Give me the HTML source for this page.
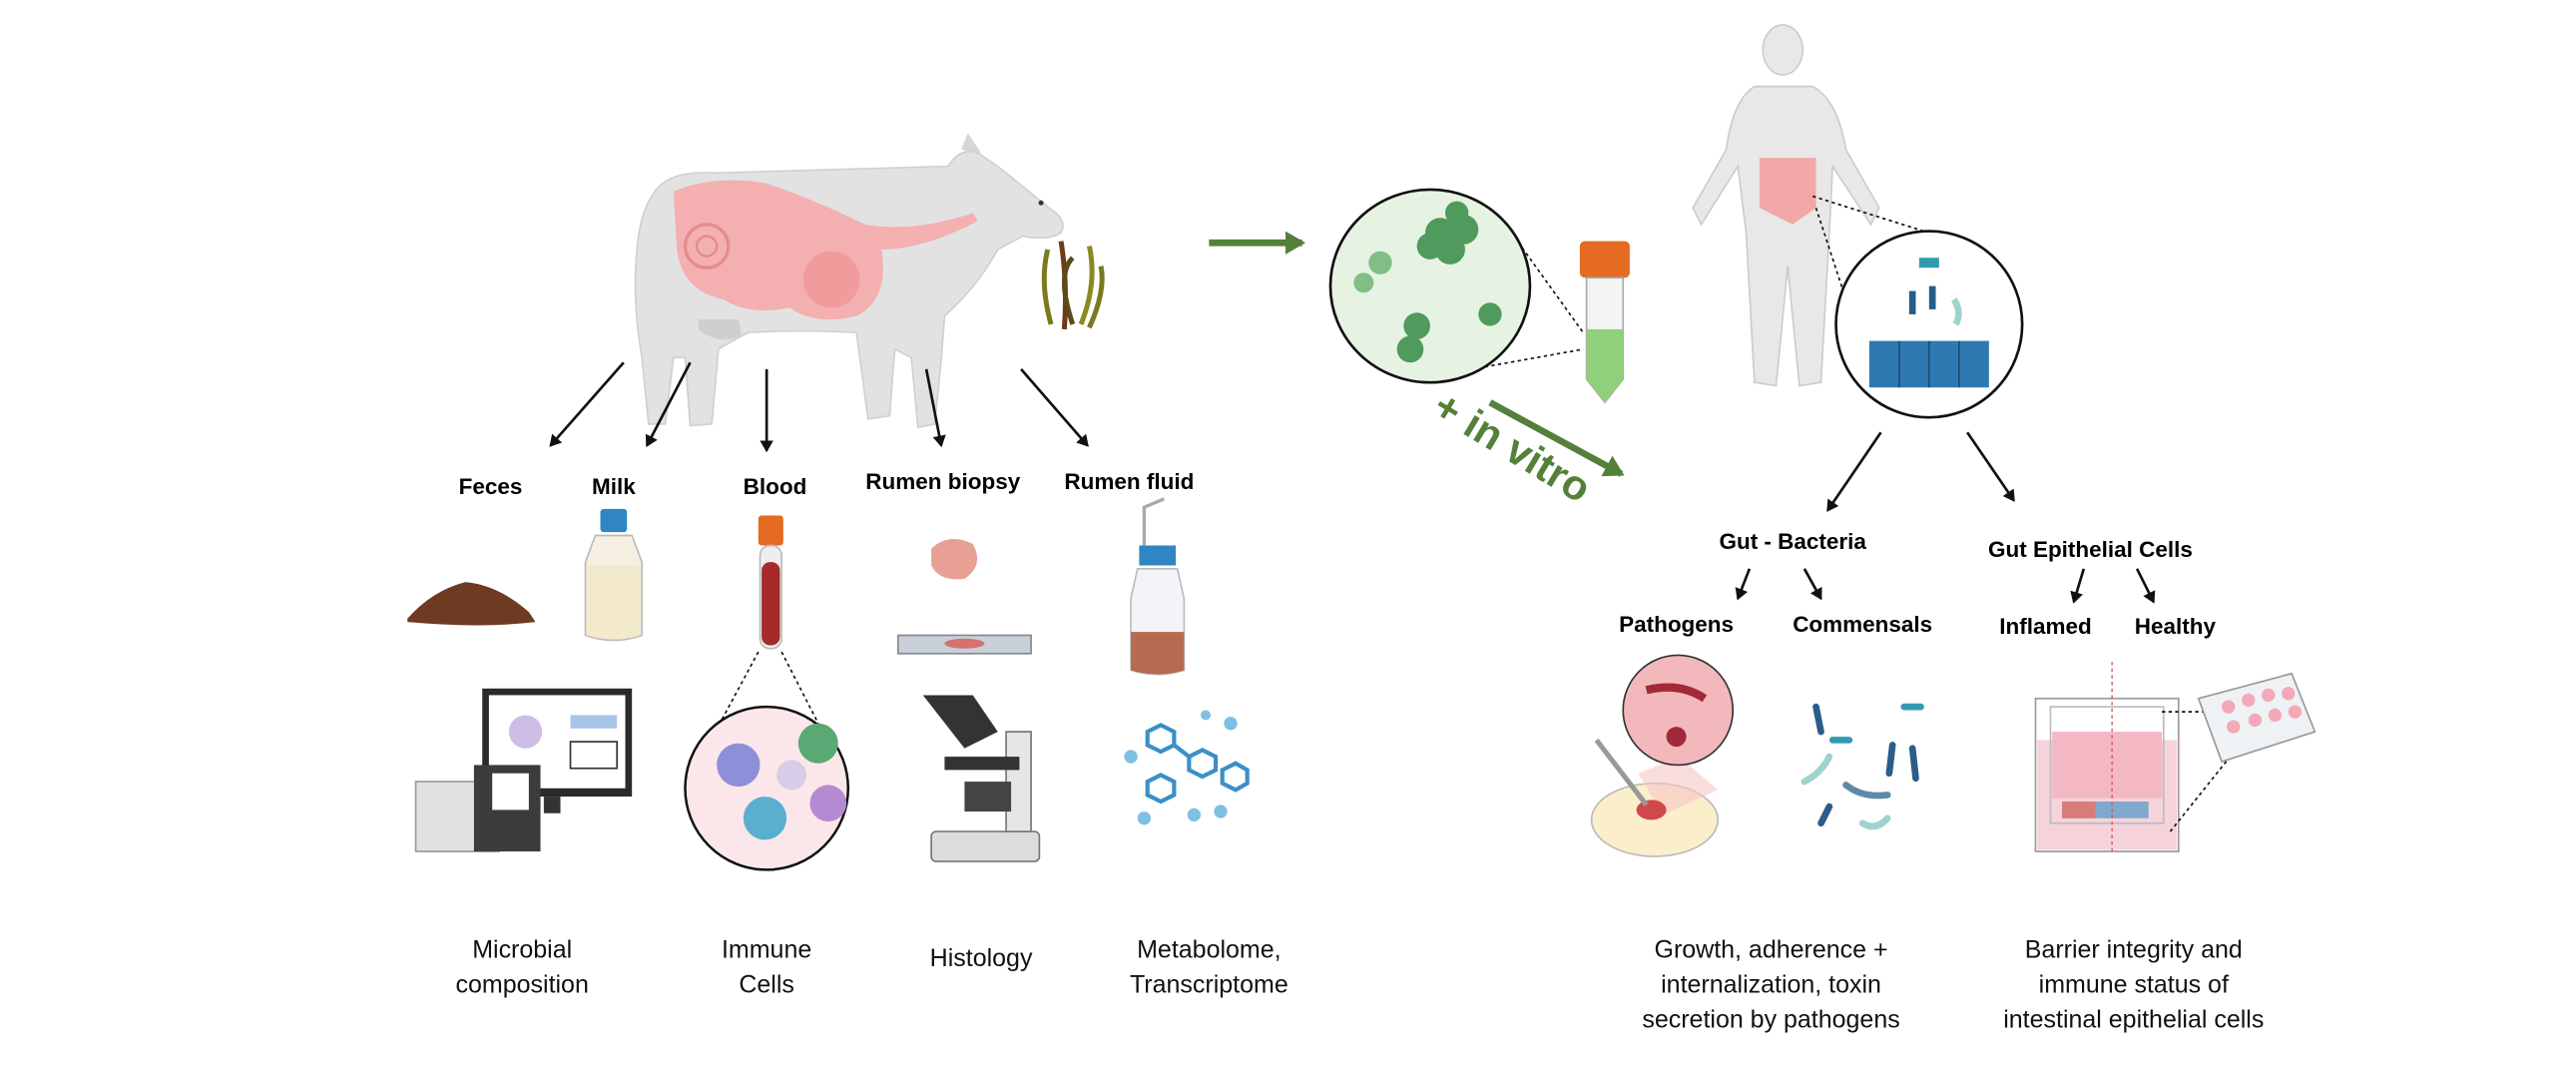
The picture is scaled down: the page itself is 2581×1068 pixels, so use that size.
<!DOCTYPE html>
<html><head><meta charset="utf-8"><style>
html,body{margin:0;padding:0;background:#fff;}
svg{display:block;}
text{font-family:"Liberation Sans",sans-serif;}
.b{font-weight:bold;font-size:13.5px;fill:#000;text-anchor:middle;}
.n{font-size:15px;fill:#111;text-anchor:middle;}
</style></head><body>
<svg width="2581" height="1068" viewBox="0 0 1549 641" preserveAspectRatio="none" xmlns="http://www.w3.org/2000/svg">
<defs>
<marker id="ah" markerWidth="8" markerHeight="8" refX="6" refY="4" orient="auto" markerUnits="userSpaceOnUse"><path d="M0,0 L7,4 L0,8 z" fill="#111"/></marker>
<marker id="gh" markerWidth="14" markerHeight="14" refX="10" refY="7" orient="auto" markerUnits="userSpaceOnUse"><path d="M0,0 L12,7 L0,14 z" fill="#55803a"/></marker>
</defs>
<rect width="1549" height="641" fill="#fff"/>
<!-- cow -->
<g>
<path d="M392,118 Q400,102 430,104 L570,100 Q578,88 588,92 L600,100 Q615,112 632,126 Q642,132 638,140 Q630,145 615,142 L600,150 Q588,172 568,190 Q566,220 562,255 L552,257 L548,215 L538,210 L535,250 L522,252 L515,200 Q480,198 450,200 Q440,205 432,210 L428,255 L415,256 L412,215 L405,215 L400,255 L390,255 L386,215 Q380,180 383,150 Q385,128 392,118z" fill="#e2e2e2" stroke="#d0d0d0"/>
<path d="M578,90 L582,80 L590,92z" fill="#d6d6d6"/>
<path d="M420,198 Q432,208 446,202 L444,192 L420,192z" fill="#cfcfcf"/>
<path d="M405,115 Q430,105 460,110 Q490,120 520,135 Q550,140 585,128 L588,133 Q555,150 530,150 Q535,180 515,190 Q490,196 475,185 Q450,190 435,180 Q410,175 407,150z" fill="#f4b0b0"/>
<circle cx="425" cy="148" r="13" fill="none" stroke="#e58c8c" stroke-width="2"/>
<circle cx="425" cy="148" r="6" fill="none" stroke="#e58c8c" stroke-width="1.5"/>
<circle cx="500" cy="168" r="17" fill="#f09c9c"/>
<circle cx="626" cy="122" r="1.5" fill="#333"/>
</g>
<!-- seaweed -->
<g stroke-width="3" fill="none">
<path d="M632,195 Q625,170 630,150" stroke="#7b7a1e"/><path d="M640,198 Q642,170 638,145" stroke="#6b3b1a"/>
<path d="M650,195 Q660,170 655,148" stroke="#8a8a22"/><path d="M645,195 Q635,165 645,155" stroke="#5d4a16"/>
<path d="M655,197 Q665,175 662,160" stroke="#7b7a1e"/>
</g>
<!-- arrows from cow -->
<g stroke="#111" stroke-width="1.6" marker-end="url(#ah)">
<line x1="375" y1="218" x2="331" y2="268"/>
<line x1="415" y1="218" x2="389" y2="268"/>
<line x1="461" y1="222" x2="461" y2="271"/>
<line x1="557" y1="222" x2="566" y2="268"/>
<line x1="614" y1="222" x2="654" y2="268"/>
</g>
<text class="b" x="295" y="297">Feces</text>
<text class="b" x="369" y="297">Milk</text>
<text class="b" x="466" y="297">Blood</text>
<text class="b" x="567" y="294">Rumen biopsy</text>
<text class="b" x="679" y="294">Rumen fluid</text>
<!-- feces -->
<path d="M245,372 Q260,355 280,350 Q300,352 318,368 L322,374 Q290,378 245,374z" fill="#6e3a22"/>
<!-- milk -->
<rect x="361" y="306" width="16" height="14" rx="2" fill="#2f86c2"/>
<path d="M358,322 L380,322 L386,338 L386,382 Q369,388 352,382 L352,338z" fill="#f5f0e2" stroke="#bbb"/>
<path d="M353,340 L385,340 L385,382 Q369,387 353,382z" fill="#f3eacc"/>
<!-- blood tube -->
<rect x="456" y="310" width="15" height="18" rx="2" fill="#e56a22"/>
<rect x="457" y="328" width="13" height="62" rx="6" fill="#eee" stroke="#bbb"/>
<rect x="458" y="338" width="11" height="50" rx="5" fill="#a52a2a"/>
<!-- biopsy -->
<path d="M560,330 Q570,320 585,327 Q592,340 580,348 Q565,350 560,340z" fill="#e8a095"/>
<rect x="540" y="382" width="80" height="11" fill="#c8d0da" stroke="#888"/>
<ellipse cx="580" cy="387" rx="12" ry="3" fill="#d87070"/>
<!-- rumen fluid bottle -->
<path d="M688,330 L688,305 L700,300" stroke="#aaa" stroke-width="2" fill="none"/>
<rect x="685" y="328" width="22" height="12" fill="#2f86c2"/>
<path d="M684,342 L708,342 L712,360 L712,403 Q696,408 680,403 L680,360z" fill="#f2f4f8" stroke="#bbb"/>
<path d="M680,380 L712,380 L712,403 Q696,408 680,403z" fill="#b76a52"/>
<!-- computer -->
<rect x="290" y="414" width="90" height="65" fill="#2a2a2a"/>
<rect x="294" y="418" width="82" height="56" fill="#fff"/>
<circle cx="316" cy="440" r="10" fill="#b8a0d8" opacity=".7"/>
<rect x="343" y="430" width="28" height="8" fill="#a7c5e8"/>
<rect x="343" y="446" width="28" height="16" fill="#fff" stroke="#333"/>
<rect x="327" y="479" width="10" height="10" fill="#333"/>
<rect x="250" y="470" width="50" height="42" fill="#e2e2e2" stroke="#999"/>
<rect x="285" y="460" width="40" height="52" fill="#3c3c3c"/>
<rect x="296" y="465" width="22" height="22" fill="#fff"/>
<!-- immune circle -->
<line x1="456" y1="392" x2="414" y2="470" stroke="#111" stroke-dasharray="2,2"/>
<line x1="470" y1="392" x2="510" y2="470" stroke="#111" stroke-dasharray="2,2"/>
<circle cx="461" cy="474" r="49" fill="#fbe7ea" stroke="#111" stroke-width="1.5"/>
<circle cx="444" cy="460" r="13" fill="#8d8fd8"/>
<circle cx="492" cy="447" r="12" fill="#5aa874"/>
<circle cx="460" cy="492" r="13" fill="#5aaed0"/>
<circle cx="498" cy="483" r="11" fill="#b48bd3"/>
<circle cx="476" cy="466" r="9" fill="#d8cde8"/>
<!-- microscope -->
<rect x="560" y="500" width="65" height="18" rx="3" fill="#ddd" stroke="#777"/>
<path d="M605,440 L620,440 L620,500 L605,500z" fill="#e6e6e6" stroke="#777"/>
<path d="M555,418 L585,418 L600,440 L580,450z" fill="#333"/>
<rect x="568" y="455" width="45" height="8" fill="#333"/>
<rect x="580" y="470" width="28" height="18" fill="#444"/>
<!-- molecules -->
<g stroke="#3a8fc8" stroke-width="2.5" fill="none">
<polygon points="690,440 698,436 706,440 706,448 698,452 690,448"/>
<polygon points="715,455 723,451 731,455 731,463 723,467 715,463"/>
<polygon points="735,463 743,459 750,463 750,471 743,475 735,471"/>
<polygon points="690,470 698,466 706,470 706,478 698,482 690,478"/>
<line x1="706" y1="448" x2="715" y2="455"/>
</g>
<g fill="#7ec0e3"><circle cx="680" cy="455" r="4"/><circle cx="740" cy="435" r="4"/><circle cx="688" cy="492" r="4"/><circle cx="718" cy="490" r="4"/><circle cx="734" cy="488" r="4"/><circle cx="725" cy="430" r="3"/></g>
<!-- bottom labels left -->
<text class="n" x="314" y="576">Microbial</text><text class="n" x="314" y="597">composition</text>
<text class="n" x="461" y="576">Immune</text><text class="n" x="461" y="597">Cells</text>
<text class="n" x="590" y="581">Histology</text>
<text class="n" x="727" y="576">Metabolome,</text><text class="n" x="727" y="597">Transcriptome</text>
<!-- green arrows -->
<line x1="727" y1="146" x2="783" y2="146" stroke="#55803a" stroke-width="4" marker-end="url(#gh)"/>
<line x1="896" y1="242" x2="975" y2="285" stroke="#55803a" stroke-width="4" marker-end="url(#gh)"/>
<text x="905" y="276" transform="rotate(31 905 276)" font-size="25" font-weight="bold" fill="#55803a" text-anchor="middle" font-family="Liberation Sans, sans-serif">+ in vitro</text>
<!-- green circle -->
<line x1="906" y1="136" x2="952" y2="200" stroke="#111" stroke-dasharray="2,2"/>
<line x1="885" y1="222" x2="952" y2="210" stroke="#111" stroke-dasharray="2,2"/>
<ellipse cx="860" cy="172" rx="60" ry="58" fill="#e6f3e3" stroke="#111" stroke-width="1.6"/>
<g fill="#4f9a5c"><circle cx="866" cy="140" r="9"/><circle cx="880" cy="138" r="9"/><circle cx="872" cy="150" r="9"/><circle cx="860" cy="148" r="8"/><circle cx="876" cy="128" r="7"/><circle cx="852" cy="196" r="8"/><circle cx="848" cy="210" r="8"/><circle cx="896" cy="189" r="7"/></g>
<g fill="#7fbf86"><circle cx="830" cy="158" r="7"/><circle cx="820" cy="170" r="6"/></g>
<!-- falcon tube -->
<rect x="950" y="145" width="30" height="22" rx="3" fill="#e56a22"/>
<path d="M954,167 L976,167 L976,228 L965,242 L954,228z" fill="#f4f4f4" stroke="#aaa"/>
<path d="M954,198 L976,198 L976,228 L965,242 L954,228z" fill="#8fd17a"/>
<!-- human -->
<g fill="#e8e8e8" stroke="#ccc">
<ellipse cx="1072" cy="30" rx="12" ry="15"/>
<path d="M1055,52 L1090,52 Q1105,60 1110,90 L1130,125 L1125,135 L1102,100 L1100,140 L1095,230 L1082,232 L1075,160 L1068,232 L1055,230 L1050,140 L1045,100 L1023,135 L1018,125 L1038,90 Q1042,60 1055,52z"/>
</g>
<path d="M1058,95 L1092,95 L1092,125 L1078,135 L1058,125z" fill="#f2a8a8"/>
<line x1="1090" y1="118" x2="1160" y2="140" stroke="#111" stroke-dasharray="2,2"/>
<line x1="1092" y1="125" x2="1110" y2="180" stroke="#111" stroke-dasharray="2,2"/>
<circle cx="1160" cy="195" r="56" fill="#fff" stroke="#111" stroke-width="1.6"/>
<rect x="1124" y="205" width="72" height="28" fill="#2e79b2"/>
<g stroke="#1d4d75"><line x1="1142" y1="205" x2="1142" y2="233"/><line x1="1160" y1="205" x2="1160" y2="233"/><line x1="1178" y1="205" x2="1178" y2="233"/></g>
<rect x="1154" y="155" width="12" height="6" fill="#2f9bb0"/>
<rect x="1148" y="175" width="4" height="14" fill="#245d8a"/><rect x="1160" y="172" width="4" height="14" fill="#245d8a"/>
<path d="M1175,180 Q1180,188 1176,195" stroke="#9fd3cf" stroke-width="4" fill="none"/>
<!-- right arrows -->
<g stroke="#111" stroke-width="1.6" marker-end="url(#ah)">
<line x1="1131" y1="260" x2="1099" y2="307"/>
<line x1="1183" y1="260" x2="1211" y2="301"/>
<line x1="1052" y1="342" x2="1045" y2="360"/>
<line x1="1085" y1="342" x2="1095" y2="360"/>
<line x1="1253" y1="342" x2="1247" y2="362"/>
<line x1="1285" y1="342" x2="1295" y2="362"/>
</g>
<text class="b" x="1078" y="330">Gut - Bacteria</text>
<text class="b" x="1257" y="335">Gut Epithelial Cells</text>
<text class="b" x="1008" y="380">Pathogens</text>
<text class="b" x="1120" y="380">Commensals</text>
<text class="b" x="1230" y="381">Inflamed</text>
<text class="b" x="1308" y="381">Healthy</text>
<!-- petri -->
<ellipse cx="995" cy="493" rx="38" ry="22" fill="#fbeecb" stroke="#bbb"/>
<path d="M985,465 L1010,455 L1033,475 L1000,490z" fill="#f5c6c6" opacity=".6"/>
<ellipse cx="993" cy="487" rx="9" ry="6" fill="#d04848"/>
<line x1="960" y1="445" x2="990" y2="484" stroke="#999" stroke-width="3"/>
<circle cx="1009" cy="427" r="33" fill="#f3b8bb" stroke="#333"/>
<path d="M990,415 Q1010,410 1025,420" stroke="#a02a3a" stroke-width="5" fill="none"/>
<circle cx="1008" cy="443" r="6" fill="#a02a3a"/>
<!-- commensals -->
<g stroke-width="4" stroke-linecap="round">
<line x1="1092" y1="425" x2="1095" y2="440" stroke="#2c5c8a"/>
<line x1="1138" y1="448" x2="1136" y2="465" stroke="#2c5c8a"/>
<line x1="1150" y1="450" x2="1152" y2="468" stroke="#2c5c8a"/>
<line x1="1100" y1="485" x2="1095" y2="495" stroke="#2c5c8a"/>
<path d="M1110,472 Q1120,480 1135,478" stroke="#5c8aa8" fill="none"/>
<path d="M1085,470 Q1095,465 1100,455" stroke="#9fd3cf" fill="none"/>
<line x1="1145" y1="425" x2="1155" y2="425" stroke="#2f9bb0"/>
<line x1="1102" y1="445" x2="1112" y2="445" stroke="#2f9bb0"/>
<path d="M1120,495 Q1128,500 1135,492" stroke="#9fd3cf" fill="none"/>
</g>
<!-- transwell -->
<rect x="1224" y="420" width="86" height="92" fill="#fff" stroke="#999"/>
<rect x="1225" y="445" width="84" height="66" fill="#f6d3da"/>
<rect x="1233" y="425" width="68" height="70" fill="none" stroke="#bbb"/>
<rect x="1234" y="440" width="66" height="40" fill="#f4b8c4"/>
<rect x="1240" y="482" width="52" height="10" fill="#7fa8cc"/>
<rect x="1240" y="482" width="20" height="10" fill="#d77b7b"/>
<line x1="1270" y1="398" x2="1270" y2="512" stroke="#c55" stroke-dasharray="2,2" stroke-width=".8"/>
<line x1="1300" y1="428" x2="1330" y2="428" stroke="#111" stroke-dasharray="2,2"/>
<line x1="1305" y1="500" x2="1345" y2="450" stroke="#111" stroke-dasharray="2,2"/>
<path d="M1322,420 L1378,405 L1392,440 L1336,458z" fill="#eef2f5" stroke="#999"/>
<g fill="#f4a8b8"><circle cx="1340" cy="425" r="4"/><circle cx="1352" cy="421" r="4"/><circle cx="1364" cy="418" r="4"/><circle cx="1343" cy="437" r="4"/><circle cx="1356" cy="433" r="4"/><circle cx="1368" cy="430" r="4"/><circle cx="1376" cy="417" r="4"/><circle cx="1380" cy="428" r="4"/></g>
<!-- bottom right labels -->
<text class="n" x="1065" y="576">Growth, adherence +</text>
<text class="n" x="1065" y="597">internalization,  toxin</text>
<text class="n" x="1065" y="618">secretion by pathogens</text>
<text class="n" x="1283" y="576">Barrier integrity and</text>
<text class="n" x="1283" y="597">immune status of</text>
<text class="n" x="1283" y="618">intestinal epithelial cells</text>
</svg>
</body></html>
